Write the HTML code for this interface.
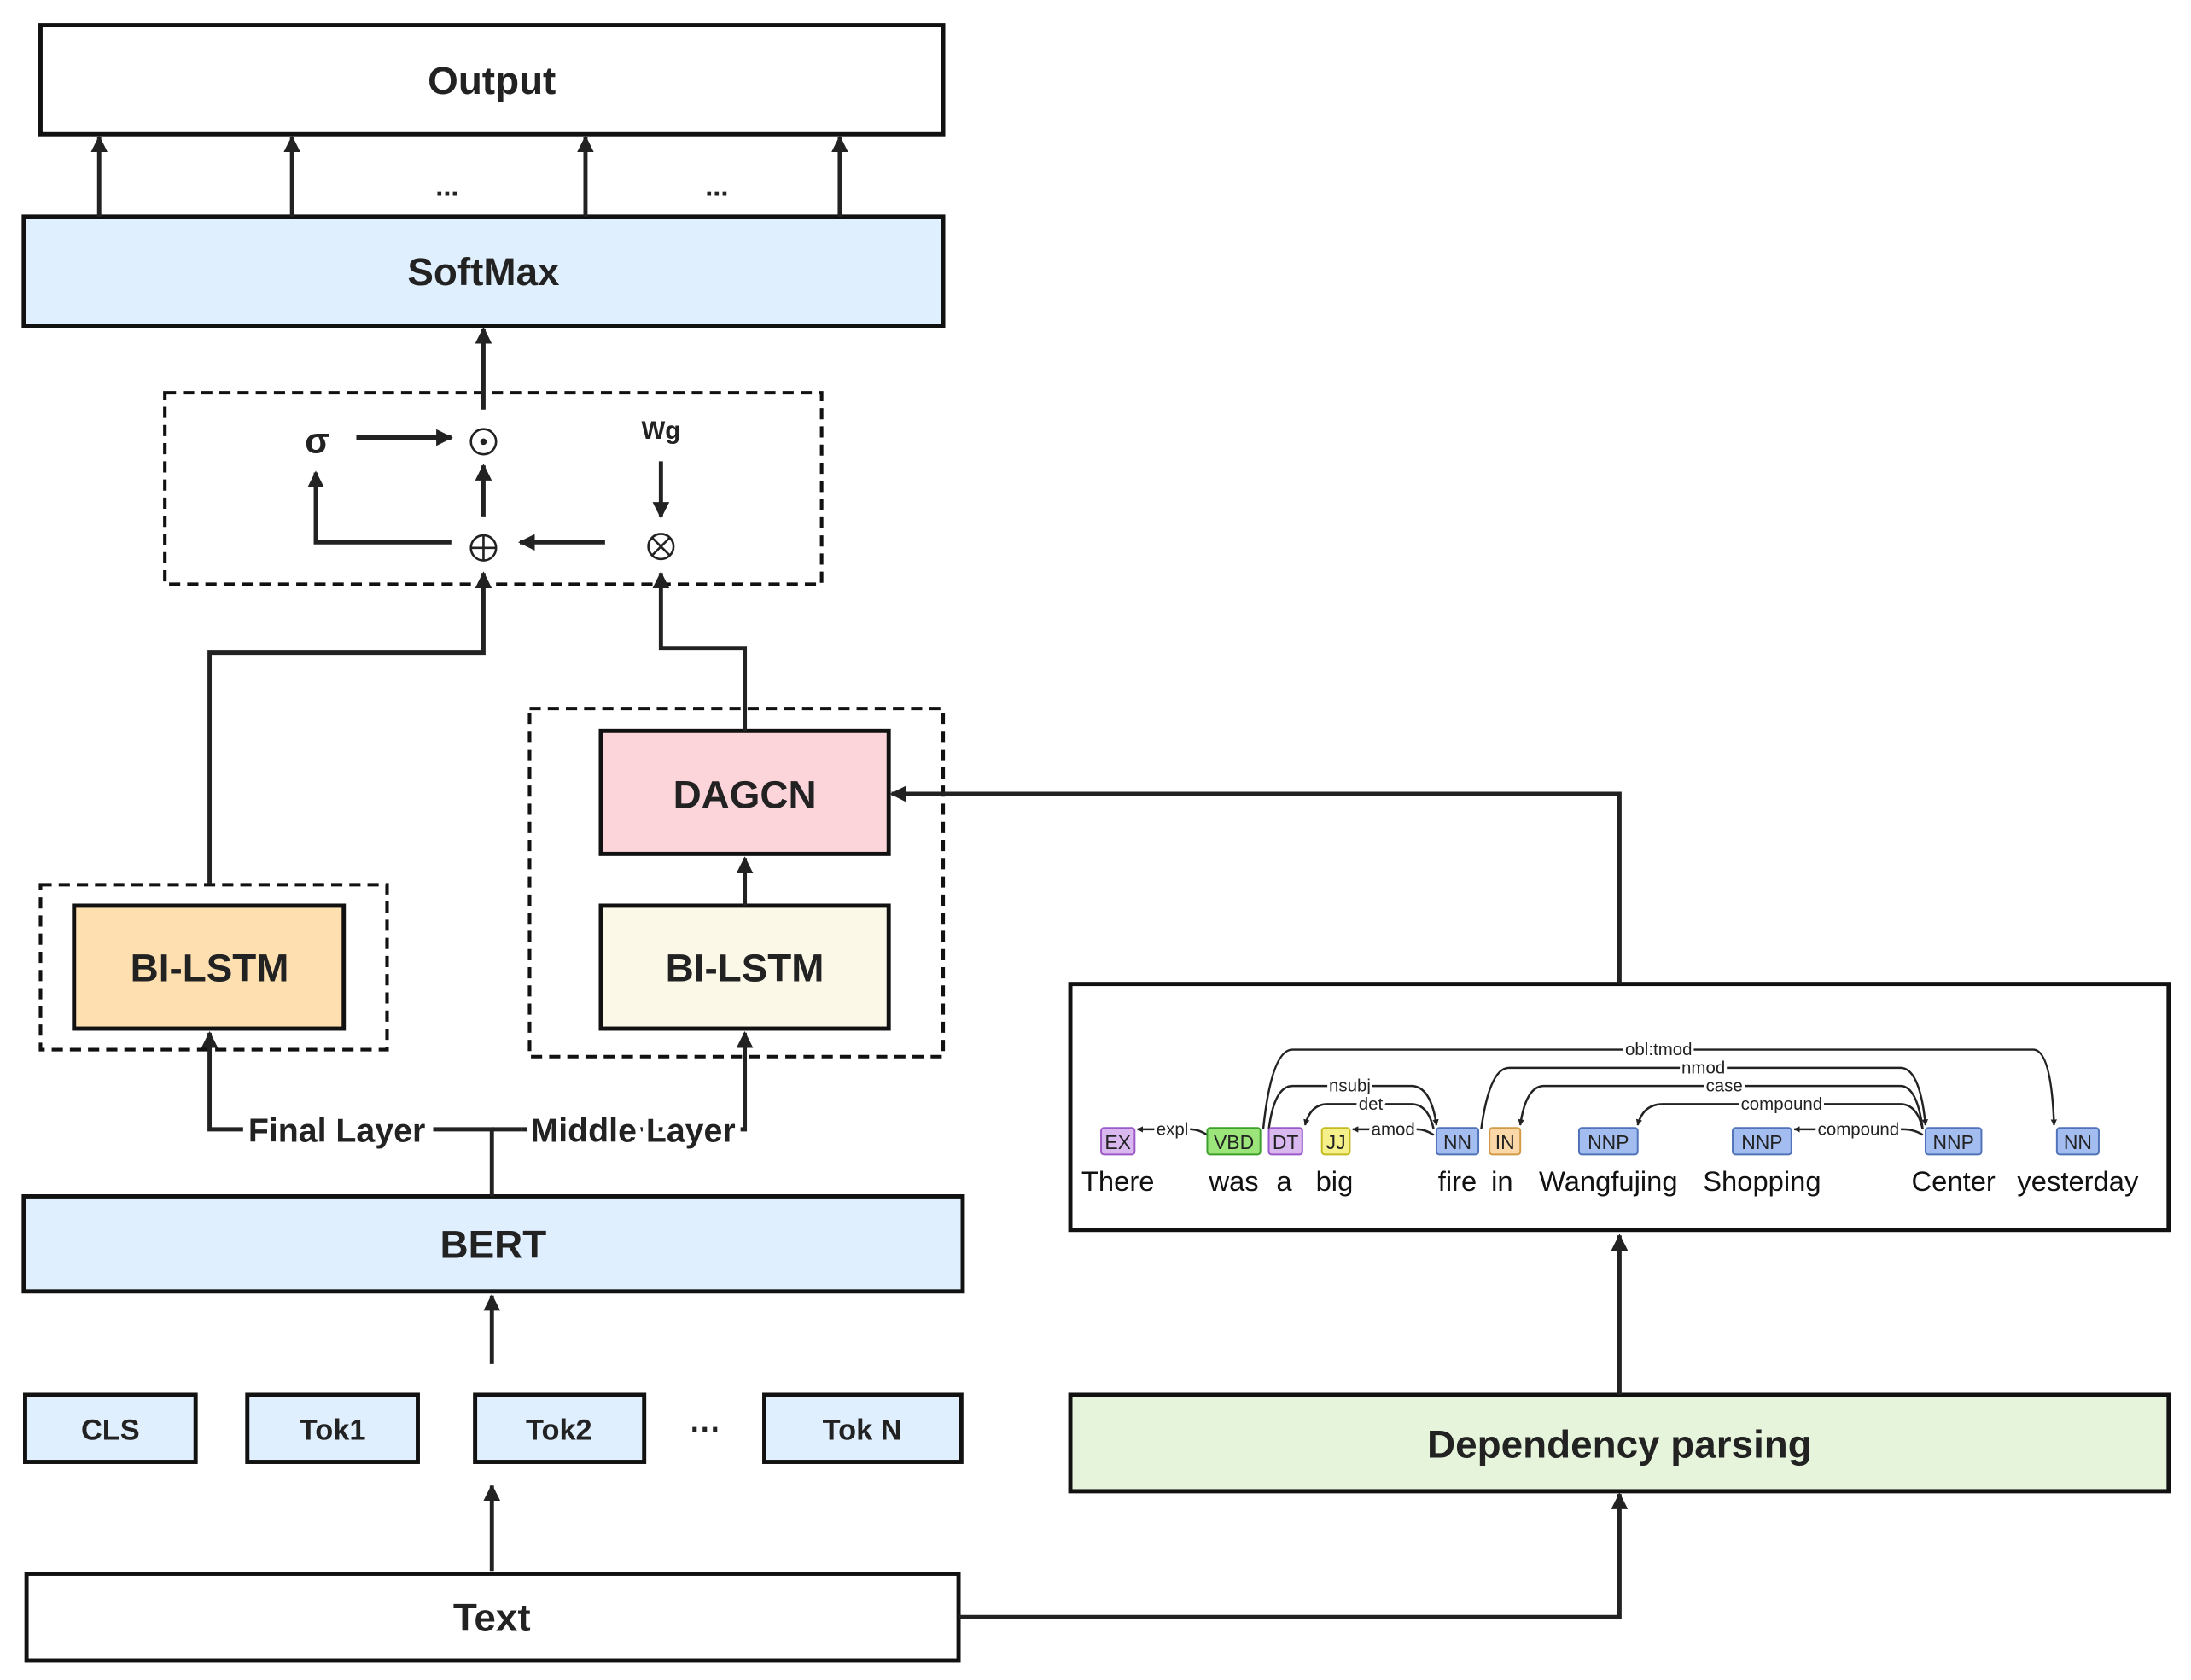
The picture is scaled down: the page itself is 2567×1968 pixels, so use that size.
<!DOCTYPE html>
<html><head><meta charset="utf-8"><style>
html,body{margin:0;padding:0;background:#fff;}
svg{display:block;}
text{font-family:"Liberation Sans",sans-serif;}
</style></head><body>
<svg width="2567" height="1968" viewBox="0 0 1568 1202" xmlns="http://www.w3.org/2000/svg">
<defs>
<marker id="a" viewBox="0 0 10 10" refX="9" refY="5" markerWidth="4" markerHeight="4" orient="auto-start-reverse"><path d="M0,0 L10,5 L0,10 z" fill="#222"/></marker>
<marker id="s" viewBox="0 0 10 10" refX="9" refY="5" markerWidth="3" markerHeight="3" orient="auto-start-reverse"><path d="M0,0 L10,5 L0,10 z" fill="#222"/></marker>
</defs>
<g stroke="#111" stroke-width="3" font-weight="bold" text-anchor="middle">
<rect x="29" y="18" width="646" height="78" fill="#fff"/>
<rect x="17" y="155" width="658" height="78" fill="#dfeffd"/>
<rect x="53" y="648" width="193" height="88" fill="#fddfb0"/>
<rect x="430" y="523" width="206" height="88" fill="#fcd5db"/>
<rect x="430" y="648" width="206" height="88" fill="#fbf8e8"/>
<rect x="17" y="856" width="672" height="68" fill="#dfeffd"/>
<rect x="18" y="998" width="122" height="48" fill="#dfeffd"/>
<rect x="177" y="998" width="122" height="48" fill="#dfeffd"/>
<rect x="340" y="998" width="121" height="48" fill="#dfeffd"/>
<rect x="547" y="998" width="141" height="48" fill="#dfeffd"/>
<rect x="19" y="1126" width="667" height="62" fill="#fff"/>
<rect x="766" y="998" width="786" height="69" fill="#e5f4db"/>
<rect x="766" y="704" width="786" height="176" fill="#fff"/>
</g>
<g fill="none" stroke="#111" stroke-width="2.5" stroke-dasharray="8,5">
<rect x="118" y="281" width="470" height="137"/>
<rect x="29" y="633" width="248" height="118"/>
<rect x="379" y="507" width="296" height="249"/>
</g>
<g fill="none" stroke="#222" stroke-width="3" marker-end="url(#a)">
<path d="M71,155V98"/><path d="M209,155V98"/><path d="M419,155V98"/><path d="M601,155V98"/>
<path d="M346,293V235"/>
<path d="M255,313H323"/>
<path d="M346,370V333"/>
<path d="M323,388H226V338"/>
<path d="M433,388H372"/>
<path d="M473,330V370"/>
<path d="M150,633V467H346V410"/>
<path d="M533,523V464H473V410"/>
<path d="M533,648V614"/>
<path d="M1159,704V568H638"/>
<path d="M174,808H150V739"/>
<path d="M373,808H533V739"/>
<path d="M352,976V927"/>
<path d="M352,1124V1063"/>
<path d="M1159,998V884"/>
<path d="M686,1157H1159V1069"/>
</g>
<path d="M352,856V808H310" stroke="#222" stroke-width="3" fill="none"/>
<path d="M352,808H373" stroke="#222" stroke-width="3"/>
<g fill="#222" font-weight="bold" text-anchor="middle" font-size="28">
<text x="352" y="67">Output</text>
<text x="346" y="204">SoftMax</text>
<text x="150" y="702">BI-LSTM</text>
<text x="533" y="578">DAGCN</text>
<text x="533" y="702">BI-LSTM</text>
<text x="353" y="900">BERT</text>
<text x="352" y="1167">Text</text>
<text x="1159" y="1043">Dependency parsing</text>
<g font-size="21"><text x="79" y="1030">CLS</text><text x="238" y="1030">Tok1</text><text x="400" y="1030">Tok2</text><text x="617" y="1030">Tok N</text></g>
<text x="505" y="1030" font-size="22">···</text>
<text x="320" y="140" font-size="20">...</text>
<text x="513" y="140" font-size="20">...</text>
<text x="227" y="324" font-size="26">σ</text>
<text x="473" y="314" font-size="18">Wg</text>
<g font-size="24" stroke="#fff" stroke-width="8" paint-order="stroke"><text x="241" y="817">Final Layer</text><text x="453" y="817">Middle Layer</text></g>
</g>
<g fill="none" stroke="#222" stroke-width="1.6">
<circle cx="346" cy="316" r="9"/><circle cx="346" cy="316" r="1.5" fill="#222"/>
<circle cx="346" cy="392" r="9"/><path d="M337,392H355M346,383V401"/>
<circle cx="473" cy="391" r="9"/><path d="M467,385L479,397M479,385L467,397"/>
</g>
<!-- dependency -->
<g fill="none" stroke="#222" stroke-width="1.5" marker-end="url(#s)">
<path d="M904,808Q910,751 925,751H1455Q1468,751 1470,805"/>
<path d="M1060,808Q1066,764 1080,764H1360Q1374,764 1378,805"/>
<path d="M908,808Q912,777 925,777H1010Q1024,777 1028,805"/>
<path d="M1376,808Q1372,777 1360,777H1105Q1092,777 1088,805"/>
<path d="M1026,808Q1022,790 1010,790H950Q938,790 934,805"/>
<path d="M1376,808Q1372,790 1360,790H1190Q1176,790 1172,805"/>
<path d="M1376,812Q1370,808 1362,808H1284"/>
<path d="M1026,812Q1020,808 1014,808H968"/>
<path d="M864,812Q858,808 852,808H814"/>
</g>
<g font-size="12.5" fill="#222" text-anchor="middle" stroke="#fff" stroke-width="4" paint-order="stroke">
<text x="1187" y="755">obl:tmod</text><text x="1219" y="768">nmod</text><text x="966" y="781">nsubj</text><text x="1234" y="781">case</text>
<text x="981" y="794">det</text><text x="1275" y="794">compound</text><text x="1330" y="812">compound</text><text x="997" y="812">amod</text><text x="839" y="812">expl</text>
</g>
<g font-size="14" text-anchor="middle" fill="#222" stroke-width="1.2">
<rect x="788" y="807" width="24" height="19" rx="2" fill="#d9b8f0" stroke="#9b59c9"/><text x="800" y="822">EX</text>
<rect x="864" y="807" width="38" height="19" rx="2" fill="#9be57a" stroke="#3d9f2a"/><text x="883" y="822">VBD</text>
<rect x="908" y="807" width="24" height="19" rx="2" fill="#d9b8f0" stroke="#9b59c9"/><text x="920" y="822">DT</text>
<rect x="946" y="807" width="20" height="19" rx="2" fill="#f5f08a" stroke="#c5bb20"/><text x="956" y="822">JJ</text>
<rect x="1028" y="807" width="30" height="19" rx="2" fill="#a4bdf0" stroke="#4f72b8"/><text x="1043" y="822">NN</text>
<rect x="1066" y="807" width="22" height="19" rx="2" fill="#fcd8a8" stroke="#d19a45"/><text x="1077" y="822">IN</text>
<rect x="1130" y="807" width="42" height="19" rx="2" fill="#a4bdf0" stroke="#4f72b8"/><text x="1151" y="822">NNP</text>
<rect x="1240" y="807" width="42" height="19" rx="2" fill="#a4bdf0" stroke="#4f72b8"/><text x="1261" y="822">NNP</text>
<rect x="1378" y="807" width="40" height="19" rx="2" fill="#a4bdf0" stroke="#4f72b8"/><text x="1398" y="822">NNP</text>
<rect x="1472" y="807" width="30" height="19" rx="2" fill="#a4bdf0" stroke="#4f72b8"/><text x="1487" y="822">NN</text>
</g>
<g font-size="20" fill="#111" text-anchor="middle">
<text x="800" y="852">There</text><text x="883" y="852">was</text><text x="919" y="852">a</text><text x="955" y="852">big</text>
<text x="1043" y="852">fire</text><text x="1075" y="852">in</text><text x="1151" y="852">Wangfujing</text><text x="1261" y="852">Shopping</text>
<text x="1398" y="852">Center</text><text x="1487" y="852">yesterday</text>
</g>
</svg>
</body></html>
